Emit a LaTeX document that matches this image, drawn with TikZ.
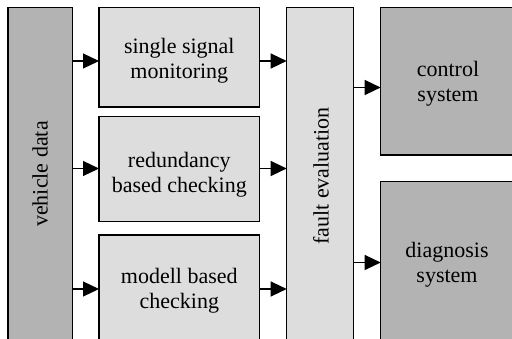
\documentclass[tikz,border=0pt]{standalone}
\usepackage{fontspec}
\setmainfont{Liberation Serif}
\usetikzlibrary{arrows.meta}
\definecolor{boxdark}{RGB}{179,179,179}
\definecolor{boxlight}{RGB}{221,221,221}
\tikzset{
  box/.style={draw=black, line width=1.2pt, inner sep=0pt, outer sep=0pt, anchor=north west},
  darkbox/.style={box, fill=boxdark},
  lightbox/.style={box, fill=boxlight},
  lbl/.style={font=\fontsize{22}{25}\selectfont, align=center, inner sep=0pt},
  arr/.style={line width=1.2pt, -{Triangle[length=16pt,width=15pt]}}
}
\begin{document}
\begin{tikzpicture}[x=1pt,y=-1pt]
  \useasboundingbox (0,0) rectangle (512,339);
  \clip (0,0) rectangle (512,339);
  % input column
  \node[darkbox, minimum width=64.3pt, minimum height=332.5pt] (veh) at (8,7.5) {};
  \node[lbl, rotate=90] (veh-t) at (40,174) {vehicle data};
  % checking methods
  \node[lightbox, minimum width=160.5pt, minimum height=99.5pt] (ss) at (99,7.5) {};
  \node[lbl] (ss-t) at (179.3,60.4) {single signal\\monitoring};
  \node[lightbox, minimum width=160.5pt, minimum height=105pt] (red) at (99,116.8) {};
  \node[lbl] (red-t) at (179.3,174.4) {redundancy\\based checking};
  \node[lightbox, minimum width=160.5pt, minimum height=110pt] (mod) at (99,235) {};
  \node[lbl] (mod-t) at (179.3,290.4) {modell based\\checking};
  % evaluation column
  \node[lightbox, minimum width=66.8pt, minimum height=332.5pt] (fault) at (286.7,7.5) {};
  \node[lbl, rotate=90] (fault-t) at (321,176) {fault evaluation};
  % consumers
  \node[darkbox, minimum width=140pt, minimum height=147.5pt] (ctrl) at (380.7,7.5) {};
  \node[lbl] (ctrl-t) at (448,83.6) {control\\system};
  \node[darkbox, minimum width=140pt, minimum height=170pt] (diag) at (380.7,181.8) {};
  \node[lbl] (diag-t) at (447,264.4) {diagnosis\\system};
  % arrow heights
  \coordinate (r1) at (0,61);
  \coordinate (r2) at (0,168.5);
  \coordinate (r3) at (0,289);
  \coordinate (r4) at (0,87.5);
  \coordinate (r5) at (0,262.5);
  % connectors
  \draw[arr] (veh.east |- r1) -- (ss.west |- r1);
  \draw[arr] (veh.east |- r2) -- (red.west |- r2);
  \draw[arr] (veh.east |- r3) -- (mod.west |- r3);
  \draw[arr] (ss.east |- r1) -- (fault.west |- r1);
  \draw[arr] (red.east |- r2) -- (fault.west |- r2);
  \draw[arr] (mod.east |- r3) -- (fault.west |- r3);
  \draw[arr] (fault.east |- r4) -- (ctrl.west |- r4);
  \draw[arr] (fault.east |- r5) -- (diag.west |- r5);
\end{tikzpicture}
\end{document}
